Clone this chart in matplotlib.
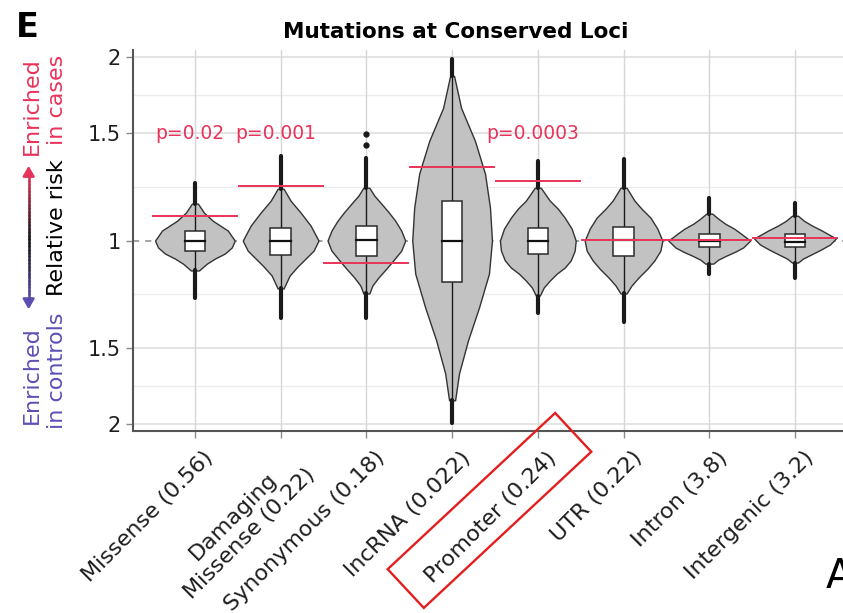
"""Permutation null distributions of relative risk at conserved loci."""

import numpy as np
import matplotlib
matplotlib.use("Agg")
from matplotlib import pyplot as plt
from matplotlib import transforms
from matplotlib.patches import Rectangle, FancyArrowPatch
from matplotlib.collections import LineCollection
from matplotlib.colors import LinearSegmentedColormap


# Data (log relative risk, cases vs controls)
# --------------------------------------------

categories: list[str] = [
    "Missense (0.56)",
    "Damaging\nMissense (0.22)",
    "Synonymous (0.18)",
    "lncRNA (0.022)",
    "Promoter (0.24)",
    "UTR (0.22)",
    "Intron (3.8)",
    "Intergenic (3.2)",
]

observed: list[float] = [0.094, 0.208, -0.083, 0.279, 0.226, 0.004, 0.002, 0.011]
p_values: dict[int, str] = {0: "p=0.02", 1: "p=0.001", 4: "p=0.0003"}

# box summaries of the permuted log relative risks
q1: list[float] = [-0.038, -0.053, -0.060, -0.158, -0.049, -0.057, -0.026, -0.026]
median: list[float] = [0.0, 0.0, 0.004, 0.0, 0.0, 0.004, 0.0, -0.004]
q3: list[float] = [0.038, 0.049, 0.057, 0.151, 0.049, 0.053, 0.026, 0.026]
whisker_lo: list[float] = [-0.113, -0.181, -0.200, -0.604, -0.208, -0.200, -0.087, -0.083]
whisker_hi: list[float] = [0.140, 0.196, 0.200, 0.623, 0.200, 0.200, 0.102, 0.094]
outlier_lo: list[float] = [-0.219, -0.294, -0.294, -0.691, -0.275, -0.309, -0.125, -0.140]
outlier_hi: list[float] = [0.219, 0.321, 0.313, 0.687, 0.302, 0.309, 0.162, 0.143]
stray_points: dict[int, list[float]] = {2: [0.360, 0.404]}

# violin outlines: density levels and half widths
violin_levels: list[list[float]] = [
    [0.14, 0.106, 0.075, 0.038, 0.0, -0.026, -0.049, -0.068, -0.087, -0.113],
    [0.196, 0.151, 0.106, 0.057, 0.0, -0.038, -0.068, -0.098, -0.132, -0.181],
    [0.2, 0.17, 0.14, 0.109, 0.075, 0.038, 0.0, -0.038, -0.075, -0.106, -0.14, -0.17, -0.2],
    [0.623, 0.502, 0.377, 0.253, 0.125, 0.0, -0.125, -0.253, -0.377, -0.502, -0.604],
    [0.2, 0.151, 0.121, 0.087, 0.045, 0.0, -0.038, -0.075, -0.102, -0.125, -0.151, -0.177, -0.208],
    [0.2, 0.151, 0.121, 0.087, 0.045, 0.0, -0.038, -0.075, -0.106, -0.14, -0.17, -0.2],
    [0.102, 0.083, 0.064, 0.045, 0.026, 0.0, -0.026, -0.042, -0.057, -0.072, -0.087],
    [0.094, 0.075, 0.057, 0.038, 0.023, 0.008, -0.015, -0.034, -0.053, -0.068, -0.083],
]
violin_widths: list[list[float]] = [
    [0.035, 0.105, 0.209, 0.384, 0.465, 0.43, 0.349, 0.233, 0.14, 0.047],
    [0.035, 0.116, 0.233, 0.349, 0.442, 0.384, 0.291, 0.198, 0.105, 0.035],
    [0.035, 0.093, 0.174, 0.256, 0.337, 0.407, 0.453, 0.407, 0.314, 0.233, 0.14, 0.07, 0.035],
    [0.023, 0.105, 0.267, 0.384, 0.442, 0.465, 0.43, 0.314, 0.186, 0.081, 0.035],
    [0.035, 0.14, 0.233, 0.314, 0.395, 0.442, 0.43, 0.384, 0.314, 0.221, 0.14, 0.07, 0.023],
    [0.035, 0.128, 0.209, 0.314, 0.395, 0.453, 0.43, 0.36, 0.279, 0.174, 0.093, 0.035],
    [0.035, 0.105, 0.186, 0.291, 0.372, 0.477, 0.395, 0.302, 0.198, 0.105, 0.047],
    [0.035, 0.105, 0.198, 0.314, 0.395, 0.477, 0.407, 0.302, 0.186, 0.093, 0.035],
]

ytick_rr: list[float] = [0.5, 1 / 1.5, 1.0, 1.5, 2.0]
ytick_labels: list[str] = ["2", "1.5", "1", "1.5", "2"]

# Colours
RED = "#e8335a"
BLUE = "#5b50b4"
GREY_FILL = "#c2c2c2"
DARK = "#2b2b2b"

plt.rcParams["font.family"] = ["DejaVu Sans"]

fig = plt.figure(figsize=(8.43, 6.13), dpi=100)
ax = fig.add_axes([0.158, 0.297, 0.842, 0.621])

positions = np.arange(1, len(categories) + 1)

# Grid
# ----
yticks = np.log(ytick_rr)
yminor = (yticks[:-1] + yticks[1:]) / 2
for y in yminor:
    ax.axhline(y, color="#ececec", lw=1.0, zorder=0)
for y in yticks:
    if y != 0:
        ax.axhline(y, color="#dcdcdc", lw=1.1, zorder=0)
for x in positions:
    ax.axvline(x, color="#d6d6d6", lw=1.0, zorder=0)
ax.axhline(0, color="#8a8a8a", lw=1.1, ls=(0, (4, 4)), zorder=1)

# Violins, boxes and tails
# ------------------------
for i, x in enumerate(positions):
    lv = np.array(violin_levels[i])
    hw = np.array(violin_widths[i])
    ax.fill_betweenx(lv, x - hw, x + hw, facecolor=GREY_FILL, edgecolor="#333333",
                     lw=1.0, zorder=2)

    # tails made of stacked outliers
    ax.plot([x, x], [whisker_hi[i], outlier_hi[i]], color="#1a1a1a", lw=3.0,
            solid_capstyle="round", zorder=3)
    ax.plot([x, x], [whisker_lo[i], outlier_lo[i]], color="#1a1a1a", lw=3.0,
            solid_capstyle="round", zorder=3)
    for yv in stray_points.get(i, []):
        ax.plot(x, yv, "o", color="#1a1a1a", ms=3.5, zorder=3)

    # whisker through the violin
    ax.plot([x, x], [whisker_lo[i], whisker_hi[i]], color="#1a1a1a", lw=1.0, zorder=3)

    # box
    ax.add_patch(Rectangle((x - 0.12, q1[i]), 0.24, q3[i] - q1[i], facecolor="white",
                           edgecolor=DARK, lw=1.1, zorder=4))
    ax.plot([x - 0.12, x + 0.12], [median[i], median[i]], color="#111111", lw=1.6, zorder=5)

    # observed value
    ax.plot([x - 0.49, x + 0.49], [observed[i], observed[i]], color=RED, lw=1.4, zorder=6)

for i, label in p_values.items():
    ax.text(positions[i] - 0.06, np.log(1.5), label, color=RED, fontsize=13.5,
            ha="center", va="center", zorder=7)

# Axes styling
# ------------
ax.set_xlim(0.28, 8.56)
ax.set_ylim(-0.72, 0.72)
ax.set_yticks(yticks)
ax.set_yticklabels(ytick_labels)
ax.set_xticks(positions)
ax.set_xticklabels(categories, rotation=45, ha="right", va="top",
                   rotation_mode="anchor", multialignment="center")
ax.tick_params(axis="both", labelsize=15, colors="#8a8a8a", labelcolor="#1e1e1e",
               length=5, width=1.0)
ax.tick_params(axis="x", labelsize=16, pad=7)
ax.tick_params(axis="y", pad=4)
offset = transforms.ScaledTranslation(0.08, 0.0, fig.dpi_scale_trans)
for lab in ax.get_xticklabels():
    lab.set_transform(lab.get_transform() + offset)
for side in ("top", "right"):
    ax.spines[side].set_visible(False)
for side in ("left", "bottom"):
    ax.spines[side].set_color("#555555")
    ax.spines[side].set_linewidth(1.5)
ax.set_facecolor("white")

# Title and panel letters
fig.text(0.541, 0.938, "Mutations at Conserved Loci", fontsize=15.5, fontweight="bold",
         ha="center", va="baseline")
fig.text(0.019, 0.940, "E", fontsize=24, fontweight="bold", ha="left", va="baseline")
fig.text(0.980, 0.041, "A", fontsize=29, ha="left", va="baseline")

# Y axis caption with a two-way arrow
# -----------------------------------
fig.text(0.038, 0.827, "Enriched", color=RED, fontsize=16, rotation=90, ha="center", va="center")
fig.text(0.068, 0.837, "in cases", color=RED, fontsize=16, rotation=90, ha="center", va="center")
fig.text(0.068, 0.628, "Relative risk", color="black", fontsize=16, rotation=90,
         ha="center", va="center")
fig.text(0.068, 0.396, "in controls", color=BLUE, fontsize=16, rotation=90,
         ha="center", va="center")
fig.text(0.038, 0.388, "Enriched", color=BLUE, fontsize=16, rotation=90, ha="center", va="center")

arrow_x = 0.034
arrow_top, arrow_bottom = 0.722, 0.503
grad = LinearSegmentedColormap.from_list("risk", [BLUE, "#111111", RED])
ys = np.linspace(arrow_bottom, arrow_top, 40)
segs = [[(arrow_x, ys[k]), (arrow_x, ys[k + 1])] for k in range(len(ys) - 1)]
lc = LineCollection(segs, colors=grad(np.linspace(0, 1, len(segs))), linewidths=1.8,
                    capstyle="round", transform=fig.transFigure)
fig.add_artist(lc)
fig.add_artist(FancyArrowPatch((arrow_x, arrow_top - 0.01), (arrow_x, 0.734),
                               arrowstyle="-|>,head_length=6,head_width=3.5", color=RED,
                               lw=1.8, transform=fig.transFigure, mutation_scale=1))
fig.add_artist(FancyArrowPatch((arrow_x, arrow_bottom + 0.01), (arrow_x, 0.491),
                               arrowstyle="-|>,head_length=6,head_width=3.5", color=BLUE,
                               lw=1.8, transform=fig.transFigure, mutation_scale=1))

# Highlight frame around the promoter label
tick_px = ax.transData.transform((positions[4], -0.72))
frame = Rectangle((tick_px[0] - 114, tick_px[1] - 177), 229, 53, angle=43,
                  fill=False, edgecolor="#e41e1e", lw=1.7,
                  transform=transforms.IdentityTransform(), clip_on=False)
fig.add_artist(frame)

fig.savefig("out.png", dpi=100, facecolor="white")
